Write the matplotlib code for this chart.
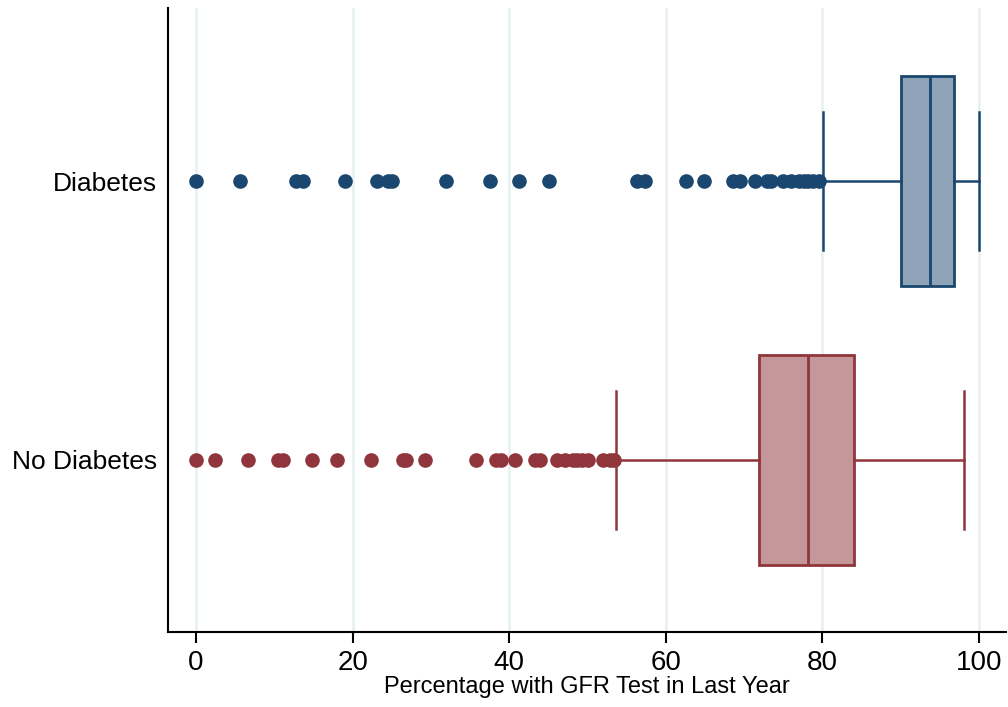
import matplotlib
matplotlib.use("Agg")
import matplotlib.pyplot as plt

plt.rcParams["font.family"] = ["Liberation Sans", "DejaVu Sans"]

# Groups, plotted bottom-to-top
groups = ["No Diabetes", "Diabetes"]

# Box statistics per group (percent with GFR test)
q1 = [71.9, 90.0]
median = [78.2, 93.7]
q3 = [84.0, 96.8]
whisker_lo = [53.6, 80.1]
whisker_hi = [98.1, 100.0]

outliers_no_diabetes = [0.0, 2.4, 6.6, 10.5, 11.1, 14.8, 18.0, 22.3, 26.4, 26.8,
                        29.2, 35.8, 38.3, 38.9, 40.7, 43.3, 43.9, 46.1, 47.1, 48.1,
                        48.7, 49.3, 50.0, 52.0, 52.9, 53.4]
outliers_diabetes = [0.0, 5.6, 12.8, 13.7, 19.0, 23.1, 24.5, 25.0, 31.9, 37.5,
                     41.3, 45.1, 56.3, 57.3, 62.6, 64.9, 68.6, 69.5, 71.4, 72.9,
                     73.4, 75.0, 76.0, 77.0, 77.6, 78.2, 78.8, 79.5]
outliers = [outliers_no_diabetes, outliers_diabetes]

edge_colors = ["#90353b", "#1a476f"]
fill_colors = ["#c4989b", "#8fa4b8"]

fig = plt.figure(figsize=(10.08, 7.07), dpi=100)
ax = fig.add_axes([0.1667, 0.106, 0.831, 0.8826])

for i, name in enumerate(groups):
    stats = [{
        "label": name,
        "q1": q1[i],
        "med": median[i],
        "q3": q3[i],
        "whislo": whisker_lo[i],
        "whishi": whisker_hi[i],
        "fliers": outliers[i],
    }]
    ec = edge_colors[i]
    ax.bxp(
        stats,
        positions=[i],
        vert=False,
        widths=0.753,
        capwidths=0.495,
        patch_artist=True,
        boxprops=dict(facecolor=fill_colors[i], edgecolor=ec, linewidth=2.0),
        medianprops=dict(color=ec, linewidth=2.0),
        whiskerprops=dict(color=ec, linewidth=1.8),
        capprops=dict(color=ec, linewidth=1.8),
        flierprops=dict(marker="o", markersize=9.5, markerfacecolor=ec,
                        markeredgecolor=ec, linestyle="none"),
        zorder=3,
    )

ax.set_xlim(-3.58, 103.4)
ax.set_ylim(-0.617, 1.62)
ax.set_xticks([0, 20, 40, 60, 80, 100])
ax.set_yticks([0, 1])
ax.set_yticklabels(groups)

ax.grid(axis="x", color="#e6f0f1", linewidth=1.8, zorder=0)
ax.set_axisbelow(True)

for side in ["top", "right"]:
    ax.spines[side].set_visible(False)
for side in ["left", "bottom"]:
    ax.spines[side].set_linewidth(1.5)
    ax.spines[side].set_color("black")

ax.tick_params(axis="x", length=8, width=1.5, labelsize=20, pad=5)
ax.tick_params(axis="y", length=0, labelsize=19, pad=8)
ax.set_xlabel("Percentage with GFR Test in Last Year", fontsize=17, labelpad=0)

fig.savefig("out.png", dpi=100)
